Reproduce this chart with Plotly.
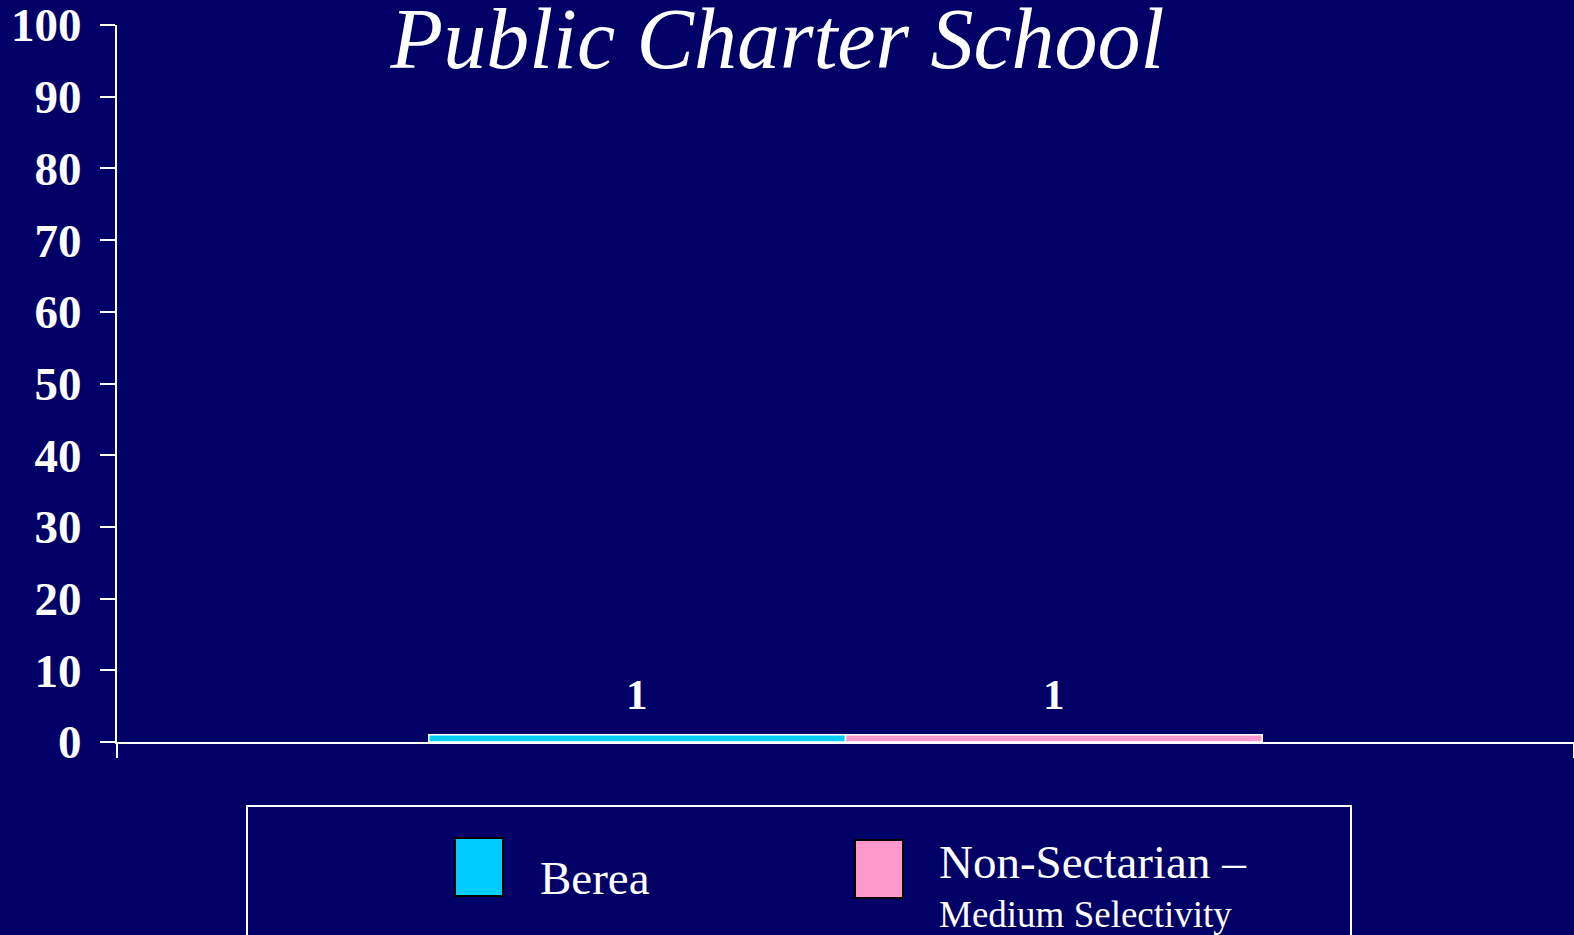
import plotly.graph_objects as go

# ---- data ----
categories = ["Public Charter School"]
series_names = ["Berea", "Non-Sectarian –"]
legend_sub = ["", "Medium Selectivity"]
series_values = [[1], [1]]
series_colors = ["#00CCFF", "#FF99CC"]
y_ticks = [0, 10, 20, 30, 40, 50, 60, 70, 80, 90, 100]

W, H = 1574, 935
ML, MR, MT, MB = 117, 0, 25, 193
BG = "#000066"
SERIF = "Liberation Serif, Times New Roman, serif"
BARGAP = 0.428

pw, ph = W - ML - MR, H - MT - MB


def px(xp):
    return (xp - ML) / pw


def py(yp):
    return (H - MB - yp) / ph


fig = go.Figure()
for name, vals, col in zip(series_names, series_values, series_colors):
    fig.add_trace(go.Bar(
        x=categories, y=vals, name=name,
        marker=dict(color=col, line=dict(color="white", width=1.5)),
        showlegend=False,
    ))

# value labels above bars
n = len(series_names)
gw = 1 - BARGAP
bw = gw / n
annotations = []
for k, vals in enumerate(series_values):
    for i, v in enumerate(vals):
        annotations.append(dict(
            x=i - gw / 2 + (k + 0.5) * bw, y=v, xref="x", yref="y",
            text=f"<b>{v}</b>", showarrow=False, yanchor="bottom",
            yshift=15, font=dict(family=SERIF, size=43, color="white"),
        ))

# manual legend
shapes = [dict(type="rect", xref="paper", yref="paper",
               x0=px(247), x1=px(1351), y0=py(960), y1=py(806),
               line=dict(color="white", width=2), fillcolor=BG, layer="below")]
sw_x = [455, 855]
sw_y = [838, 840]
txt_x = [538, 937]
txt_base = [896, 880]
for k in range(n):
    shapes.append(dict(type="rect", xref="paper", yref="paper",
                       x0=px(sw_x[k]), x1=px(sw_x[k] + 48),
                       y0=py(sw_y[k] + 58), y1=py(sw_y[k]),
                       line=dict(color="black", width=2),
                       fillcolor=series_colors[k]))
    annotations.append(dict(
        x=px(txt_x[k]), y=py(txt_base[k] + 10), xref="paper", yref="paper",
        xanchor="left", yanchor="bottom", showarrow=False,
        text=series_names[k], font=dict(family=SERIF, size=47, color="white")))
    if legend_sub[k]:
        annotations.append(dict(
            x=px(txt_x[k]), y=py(929 + 8), xref="paper", yref="paper",
            xanchor="left", yanchor="bottom", showarrow=False,
            text=legend_sub[k], font=dict(family=SERIF, size=37, color="white")))

fig.update_layout(
    width=W, height=H, autosize=False,
    margin=dict(l=ML, r=MR, t=MT, b=MB, pad=0),
    paper_bgcolor=BG, plot_bgcolor=BG,
    barmode="group", bargap=BARGAP, bargroupgap=0,
    title=dict(text="<i>Public Charter School</i>", x=0.494, xref="container",
               xanchor="center", y=0.960, yref="container", yanchor="middle",
               font=dict(family=SERIF, size=86, color="white")),
    xaxis=dict(showline=True, linecolor="white", linewidth=2,
               ticks="outside", ticklen=14, tickwidth=2, tickcolor="white",
               tickson="boundaries", showticklabels=False, showgrid=False,
               zeroline=False),
    yaxis=dict(range=[0, 100], tickvals=y_ticks, showline=True, linecolor="white",
               linewidth=2, ticks="outside", ticklen=15, tickwidth=2,
               tickcolor="white", showgrid=False, zeroline=False,
               ticklabelstandoff=9, ticklabeloverflow="allow",
               tickfont=dict(family=SERIF, size=47, color="white", weight="bold")),
    shapes=shapes, annotations=annotations,
)

fig.write_html(
    "out.html",
    config={"displayModeBar": False},
    post_script="document.body.style.margin='0';document.body.style.background='#000066';",
)
